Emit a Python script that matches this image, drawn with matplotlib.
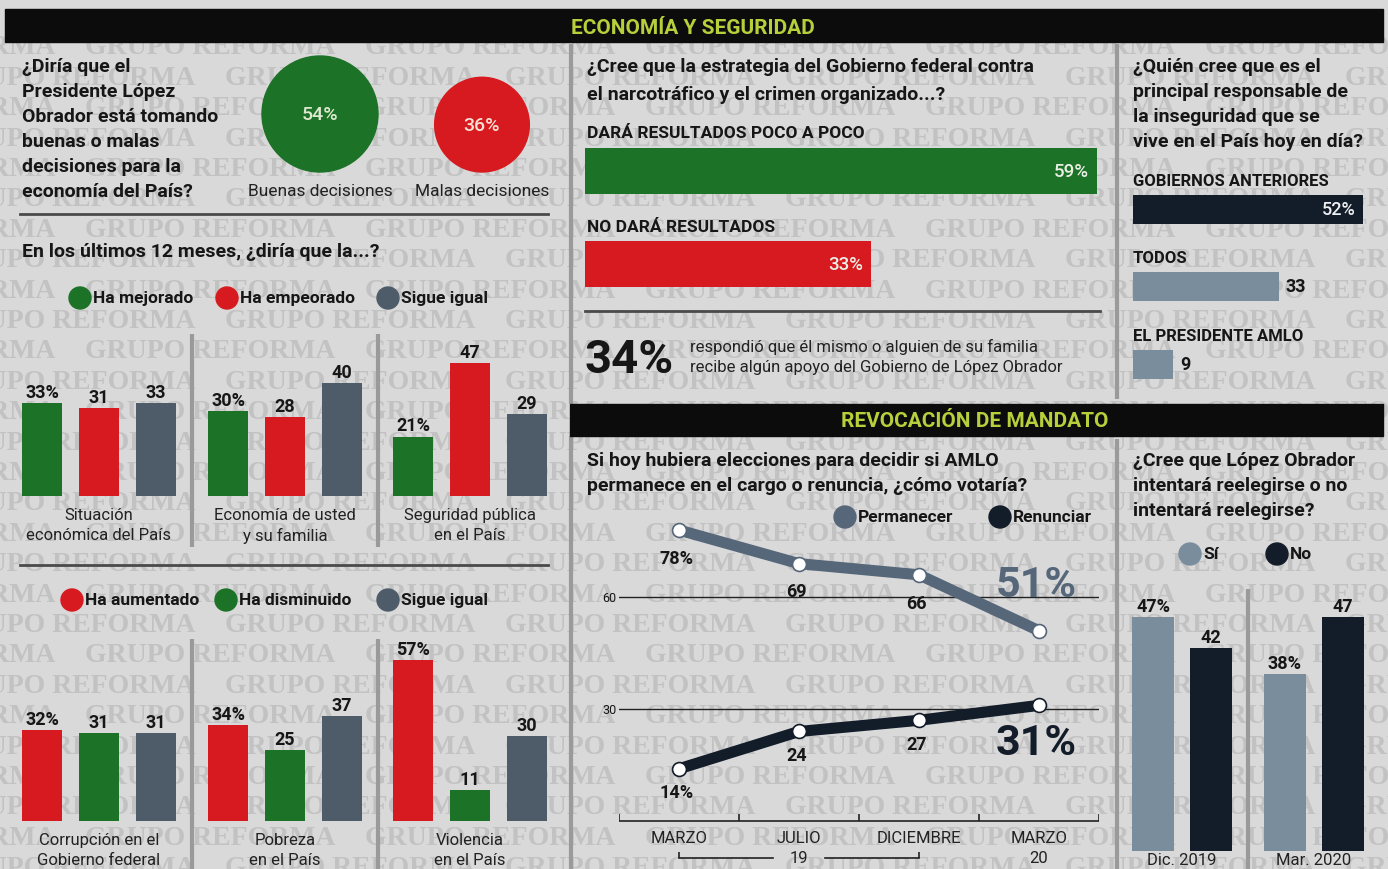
import numpy as np
import matplotlib
matplotlib.use("Agg")
import matplotlib.pyplot as plt
from matplotlib.patches import Circle, Rectangle

# ---------------- datos ----------------
decision_labels = ["Buenas decisiones", "Malas decisiones"]
decision_vals = [54, 36]

mejora_legend = ["Ha mejorado", "Ha empeorado", "Sigue igual"]
mejora_cats = [["Situación", "económica del País"], ["Economía de usted", "y su familia"],
               ["Seguridad pública", "en el País"]]
mejora_vals = [[33, 31, 33], [30, 28, 40], [21, 47, 29]]

aumento_legend = ["Ha aumentado", "Ha disminuido", "Sigue igual"]
aumento_cats = [["Corrupción en el", "Gobierno federal"], ["Pobreza", "en el País"],
                ["Violencia", "en el País"]]
aumento_vals = [[32, 31, 31], [34, 25, 37], [57, 11, 30]]

estrategia_labels = ["DARÁ RESULTADOS POCO A POCO", "NO DARÁ RESULTADOS"]
estrategia_vals = [59, 33]
apoyo_val = 34

resp_labels = ["GOBIERNOS ANTERIORES", "TODOS", "EL PRESIDENTE AMLO"]
resp_vals = [52, 33, 9]

meses = ["MARZO", "JULIO", "DICIEMBRE", "MARZO"]
anios = ["19", "20"]
permanecer = [78, 69, 66, 51]
renunciar = [14, 24, 27, 31]

reeleccion_periodos = ["Dic. 2019", "Mar. 2020"]
reeleccion_si = [47, 38]
reeleccion_no = [42, 47]

# ---------------- estilo ----------------
BG = "#d9d9d9"
WM = "#c2c2c2"
INK = "#161616"
GREEN = "#1c7227"
RED = "#d71a1f"
SLATE = "#4d5c68"
NAVY = "#131c29"
STEEL = "#7a8d9c"
PERM = "#56677a"
TITLE = "#b6cf3b"
FONT = ["Roboto", "DejaVu Sans"]

W, H = 1388, 870
fig = plt.figure(figsize=(W / 100, H / 100), dpi=100)
fig.patch.set_facecolor(BG)
bg = fig.add_axes([0, 0, 1, 1])
bg.set_xlim(0, W)
bg.set_ylim(H, 0)
bg.axis("off")


def pax(x0, y0, x1, y1):
    ax = fig.add_axes([x0 / W, 1 - y1 / H, (x1 - x0) / W, (y1 - y0) / H])
    ax.axis("off")
    return ax


def txt(x, y, s, size=14, weight="bold", color=INK, ha="left", zorder=4, **kw):
    bg.text(x, y, s, fontsize=size, fontweight=weight, color=color, ha=ha,
            va="center", family=FONT, zorder=zorder, **kw)


def block(x, y0, pitch, lines, **kw):
    for k, s in enumerate(lines):
        txt(x, y0 + k * pitch, s, **kw)


# marca de agua (al fondo)
for k in range(29):
    y = 48 + 30.4 * k
    x = (85 if k % 2 == 0 else 225) - 560
    while x < W:
        bg.text(x, y, "GRUPO REFORMA", fontsize=20, fontweight="bold",
                family="Liberation Serif", color=WM, va="center", ha="left", zorder=0.5)
        x += 280

# barras de encabezado
bg.add_patch(Rectangle((5, 10), 1378, 33, color="#0c0c0c", zorder=2))
txt(693, 28, "ECONOMÍA Y SEGURIDAD", size=15, color=TITLE, ha="center")
bg.add_patch(Rectangle((570, 405), 813, 32, color="#0c0c0c", zorder=2))
txt(975, 422, "REVOCACIÓN DE MANDATO", size=15, color=TITLE, ha="center")

# separadores
for x, y0, y1 in [(571, 45, 405), (571, 437, 870), (1117, 45, 400), (1117, 440, 870),
                  (192, 335, 548), (378, 335, 548), (192, 640, 870), (378, 640, 870),
                  (1248, 590, 870)]:
    bg.plot([x, x], [y0, y1], color="#9a9a9a", lw=3, solid_capstyle="butt", zorder=1)
for y, x0, x1 in [(215, 20, 548), (566, 20, 548), (312, 585, 1100)]:
    bg.plot([x0, x1], [y, y], color="#4a4a4a", lw=2, zorder=1)

# ---------- decisiones (burbujas) ----------
block(22, 67, 25, ["¿Diría que el", "Presidente López", "Obrador está tomando",
                   "buenas o malas", "decisiones para la", "economía del País?"])
k_r = 58 / np.sqrt(max(decision_vals))
for cx, v, c, lab, tc in zip([320, 482], decision_vals, [GREEN, RED], decision_labels,
                              ["#dfe9d2", "#f6e2d6"]):
    r = k_r * np.sqrt(v)
    bg.add_patch(Circle((cx, 173 - r), r, color=c, zorder=2))
    txt(cx, 173 - r, f"{v}%", size=14, weight="medium", color=tc, ha="center")
    txt(cx, 192, lab, size=12.5, weight="normal", color="#222222", ha="center")

# ---------- barras 12 meses ----------
SC = 2.83


def grupos(base, vals, colors, cats):
    for g, (vv, cat) in enumerate(zip(vals, cats)):
        x0 = [22, 208, 393][g]
        ax = pax(x0, base - 62 * SC, x0 + 154, base)
        ax.bar(range(3), vv, width=40 / 57, color=colors)
        ax.set_xlim(-20 / 57, 2 + 20 / 57)
        ax.set_ylim(0, 62)
        for i, v in enumerate(vv):
            ax.annotate(f"{v}%" if i == 0 else f"{v}", (i, v), xytext=(0, 1.5),
                        textcoords="offset points", ha="center", va="bottom",
                        fontsize=13, fontweight="bold", family=FONT, color=INK)
        block(x0 + 77, base + 19, 20, cat, size=12, weight="normal", ha="center",
              color="#222222")


def leyenda(y, xs, labels, colors):
    for x, lab, c in zip(xs, labels, colors):
        bg.add_patch(Circle((x, y), 11, color=c, zorder=2))
        txt(x + 13, y, lab, size=12.5)


txt(22, 252, "En los últimos 12 meses, ¿diría que la...?")
leyenda(299, [80, 227, 388], mejora_legend, [GREEN, RED, SLATE])
grupos(497, mejora_vals, [GREEN, RED, SLATE], mejora_cats)

leyenda(601, [72, 226, 388], aumento_legend, [RED, GREEN, SLATE])
grupos(822, aumento_vals, [RED, GREEN, SLATE], aumento_cats)

# ---------- estrategia ----------
block(587, 67, 28, ["¿Cree que la estrategia del Gobierno federal contra",
                    "el narcotráfico y el crimen organizado...?"])
txt(587, 134, estrategia_labels[0], size=12.5)
txt(587, 228, estrategia_labels[1], size=12.5)
ax = pax(585, 149, 1100, 288)
sc = 512 / 59
ax.barh([0, 1], estrategia_vals, height=46 / 93, color=[GREEN, RED])
ax.set_xlim(0, 515 / sc)
ax.set_ylim(1 + 23 / 93, -23 / 93)
for i, v in enumerate(estrategia_vals):
    ax.annotate(f"{v}%", (v, i), xytext=(-6, 0), textcoords="offset points",
                ha="right", va="center", fontsize=13.5, fontweight="medium",
                family=FONT, color="#e9efe4")

txt(585, 360, f"{apoyo_val}%", size=34, weight="bold")
block(690, 347, 21, ["respondió que él mismo o alguien de su familia",
                     "recibe algún apoyo del Gobierno de López Obrador"],
      size=12, weight="normal", color="#222222")

# ---------- responsable inseguridad ----------
block(1133, 67, 25, ["¿Quién cree que es el", "principal responsable de",
                     "la inseguridad que se", "vive en el País hoy en día?"])
for y, lab in zip([181, 259, 337], resp_labels):
    txt(1133, y, lab, size=12)
ax = pax(1133, 196, 1370, 380)
sc = 230 / 52
ax.barh(range(3), resp_vals, height=29 / 77.5, color=[NAVY, STEEL, STEEL])
ax.set_xlim(0, 237 / sc)
ax.set_ylim(2 + 15 / 77.5, -14 / 77.5)
for i, v in enumerate(resp_vals):
    if i == 0:
        ax.annotate(f"{v}%", (v, i), xytext=(-5, 0), textcoords="offset points",
                    ha="right", va="center", fontsize=13, fontweight="medium",
                    family=FONT, color="#eef0f2")
    else:
        ax.annotate(f"{v}", (v, i), xytext=(5, 0), textcoords="offset points",
                    ha="left", va="center", fontsize=13, fontweight="bold",
                    family=FONT, color=INK)

# ---------- revocación: líneas ----------
block(587, 461, 25, ["Si hoy hubiera elecciones para decidir si AMLO",
                     "permanece en el cargo o renuncia, ¿cómo votaría?"])
leyenda(518, [845, 1000], ["Permanecer", "Renunciar"], [PERM, NAVY])

SPU = 3.73
ax = pax(619, 500, 1099, 870)
ax.set_xlim(-0.5, 3.5)
ax.set_ylim(-(870 - 822) / SPU, (822 - 500) / SPU)


def yd(py):
    return (822 - py) / SPU


for ref in [60, 30]:
    ax.plot([-0.5, 3.5], [ref, ref], color="#222222", lw=1)
    ax.annotate(str(ref), (-0.5, ref), xytext=(-2, 0), textcoords="offset points",
                ha="right", va="center", fontsize=9, family=FONT, color=INK,
                annotation_clip=False)

xs = np.arange(len(meses))
for serie, col, off, big_off in [(permanecer, PERM, -20, 33), (renunciar, NAVY, -17, -27)]:
    ax.plot(xs, serie, color=col, lw=8, solid_capstyle="round", solid_joinstyle="round",
            zorder=3)
    ax.plot(xs, serie, "o", ms=10, mfc="white", mec=col, mew=1.2, zorder=4)
    for i, v in enumerate(serie):
        if i == len(serie) - 1:
            ax.annotate(f"{v}%", (i, v), xytext=(-2, big_off), textcoords="offset points",
                        ha="center", va="center", fontsize=31, fontweight="bold",
                        family=FONT, color=col)
        else:
            ax.annotate(f"{v}%" if i == 0 else f"{v}", (i, v), xytext=(-2, off),
                        textcoords="offset points", ha="center", va="center",
                        fontsize=13, fontweight="bold", family=FONT, color=INK)

# eje de meses
ax.plot([-0.5, 3.5], [0, 0], color="#222222", lw=1.2)
ax.vlines(np.arange(-0.5, 4, 1), 0, 7 / SPU, color="#222222", lw=1.2)
for i, m in enumerate(meses):
    ax.text(i, yd(839), m, ha="center", va="center", fontsize=12, family=FONT, color="#222222")
yb = yd(859)
ax.plot([0, 0.78], [yb, yb], color="#222222", lw=1.2)
ax.plot([1.22, 2], [yb, yb], color="#222222", lw=1.2)
ax.vlines([0, 2], yb, yb + 6 / SPU, color="#222222", lw=1.2)
ax.text(1, yb, anios[0], ha="center", va="center", fontsize=12, family=FONT, color="#222222")
ax.text(3, yb, anios[1], ha="center", va="center", fontsize=12, family=FONT, color="#222222")

# ---------- reelección ----------
block(1133, 461, 25, ["¿Cree que López Obrador", "intentará reelegirse o no",
                      "intentará reelegirse?"])
leyenda(555, [1190, 1277], ["Sí", "No"], [STEEL, NAVY])
PX = 6.33
for g, (si, no) in enumerate(zip(reeleccion_si, reeleccion_no)):
    x0 = [1132, 1264][g]
    ax = pax(x0, 560, x0 + 100, 852)
    ax.bar([0, 1], [si, no], width=42 / 58, color=[STEEL, NAVY])
    ax.set_xlim(-21 / 58, 1 + 21 / 58)
    ax.set_ylim(10, 10 + 292 / PX)
    for i, v in enumerate([si, no]):
        ax.annotate(f"{v}%" if i == 0 else f"{v}", (i, v), xytext=(0, 1.5),
                    textcoords="offset points", ha="center", va="bottom",
                    fontsize=13, fontweight="bold", family=FONT, color=INK)
    txt(x0 + 50, 861, reeleccion_periodos[g], size=12, weight="normal", ha="center",
        color="#222222")

fig.savefig("out.png", dpi=100, facecolor=BG)
